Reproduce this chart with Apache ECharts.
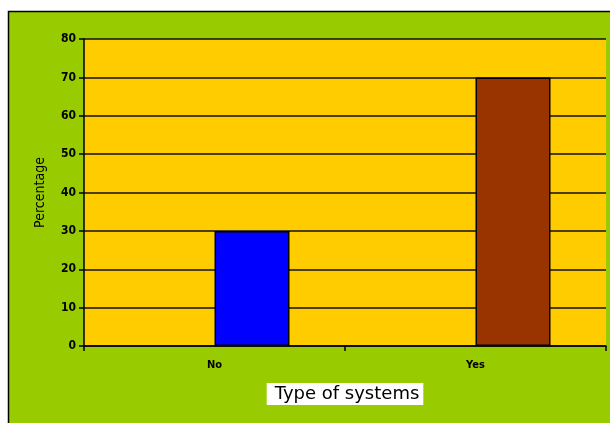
<!DOCTYPE html>
<html><head><meta charset="utf-8">
<script src="https://cdn.jsdelivr.net/npm/echarts@6/dist/echarts.min.js"></script>
<style>html,body{margin:0;padding:0;background:#fff}#c{width:610px;height:423px}</style>
</head><body><div id="c"></div>
<script>
const categories = ['No', 'Yes'];
const values = [30, 70];
const barColors = ['#0000FF', '#993300'];
const yTicks = [0, 10, 20, 30, 40, 50, 60, 70, 80];

const chart = echarts.init(document.getElementById('c'));
chart.setOption({
  animation: false,
  backgroundColor: '#ffffff',
  graphic: [{
    type: 'rect', z: -10, silent: true,
    shape: { x: 8.5, y: 11.5, width: 640, height: 440 },
    style: { fill: '#99CC00', stroke: '#000', lineWidth: 1.5 }
  }],
  grid: { left: 84, right: 4, top: 39, bottom: 77, show: true, backgroundColor: '#FFCC00', borderWidth: 0 },
  xAxis: {
    type: 'category', data: categories,
    axisLine: { lineStyle: { color: '#000', width: 1.5 } },
    axisTick: { show: true, alignWithLabel: false, length: 5, lineStyle: { color: '#000', width: 1.5 } },
    axisLabel: { color: '#000', fontFamily: 'DejaVu Sans Condensed', fontWeight: 'bold', fontSize: 11, margin: 14 },
    name: 'Type of systems', nameLocation: 'middle', nameGap: 37,
    nameTextStyle: { color: '#000', fontFamily: 'DejaVu Sans', fontSize: 18, letterSpacing: 0.5, backgroundColor: '#fff', padding: [2, 4, 2, 8] }
  },
  yAxis: {
    type: 'value', min: yTicks[0], max: yTicks[yTicks.length - 1], interval: 10,
    axisLine: { show: true, lineStyle: { color: '#000', width: 1.5 } },
    axisTick: { show: true, length: 5, lineStyle: { color: '#000', width: 1.5 } },
    axisLabel: { color: '#000', fontFamily: 'DejaVu Sans Condensed', fontWeight: 'bold', fontSize: 12, margin: 8 },
    splitLine: { show: true, lineStyle: { color: '#111', width: 1.5 } },
    name: 'Percentage', nameLocation: 'middle', nameGap: 37,
    nameTextStyle: { color: '#000', fontFamily: 'DejaVu Sans Condensed', fontSize: 14 }
  },
  series: [
    { type: 'bar', data: categories.map(() => null), barWidth: 75, barGap: '0%' },
    {
      type: 'bar', barWidth: 75, barGap: '0%',
      data: values.map((v, i) => ({ value: v, itemStyle: { color: barColors[i] } })),
      itemStyle: { borderColor: '#000', borderWidth: 1.5 }
    }
  ]
});
</script></body></html>
